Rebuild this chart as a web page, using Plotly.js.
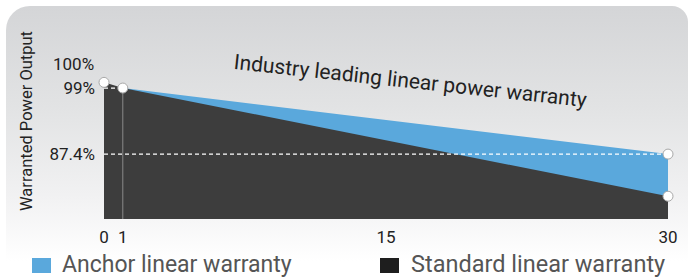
<!DOCTYPE html>
<html>
<head>
<meta charset="utf-8">
<script src="https://cdn.plot.ly/plotly-3.0.1.min.js"></script>
<style>
  html, body { margin: 0; padding: 0; background: #ffffff; }
  #wrap { position: relative; width: 688px; height: 277px; overflow: hidden; background: #ffffff; }
  #panel { position: absolute; left: 6px; top: 6px; width: 682px; height: 290px;
    border-radius: 24px 16px 0 0;
    background: linear-gradient(to bottom, #d4d5d7 0%, #e2e3e4 35%, #f1f1f2 65%, #ffffff 88%); }
  #chart { position: absolute; left: 0; top: 0; width: 688px; height: 277px; }
</style>
</head>
<body>
<div id="wrap"><div id="panel"></div><div id="chart"></div></div>
<script>
// ---- data ----
const years = [0, 1, 15, 30];                 // x tick values
const xTickLabels = ['0', '1', '15', '30'];
const standardYears = [0, 1, 30];
const standardOutput = [100, 99, 80];         // Standard linear warranty (%)
const anchorYears = [1, 30];
const anchorOutput = [99, 87.4];              // Anchor linear warranty (%)
const yTickValues = [99, 87.4];
const yTickLabels = ['99%', '87.4%'];
const topLabel = '100%';
const seriesNames = ['Anchor linear warranty', 'Standard linear warranty'];
const chartTitle = 'Industry leading linear power warranty';
const yTitle = 'Warranted Power Output';

const yRange = [76, 109.2];
const BLUE = '#5aa8dc';
const DARK = '#3d3d3d';
const condensed = 'Roboto, sans-serif';

const traces = [
  { x: anchorYears, y: anchorOutput, mode: 'lines', fill: 'tozeroy', fillcolor: BLUE,
    line: { width: 0, color: BLUE }, name: seriesNames[0], showlegend: false, hoverinfo: 'skip' },
  { x: standardYears, y: standardOutput, mode: 'lines', fill: 'tozeroy', fillcolor: DARK,
    line: { width: 0, color: DARK }, name: seriesNames[1], showlegend: false, hoverinfo: 'skip' },
  { x: [anchorYears[0], anchorYears[0]], y: [yRange[0], anchorOutput[0]], mode: 'lines',
    line: { width: 1, color: '#8a8a8a' }, showlegend: false, hoverinfo: 'skip' },
  { x: [standardYears[0], anchorYears[0]], y: [anchorOutput[0], anchorOutput[0]], mode: 'lines',
    line: { width: 1.3, color: '#ffffff', dash: '4px,3px' }, showlegend: false, hoverinfo: 'skip' },
  { x: [standardYears[0], anchorYears[1]], y: [anchorOutput[1], anchorOutput[1]], mode: 'lines',
    line: { width: 1.3, color: '#ffffff', dash: '4px,3px' }, showlegend: false, hoverinfo: 'skip' },
  { x: [standardYears[0], anchorYears[0], anchorYears[1], standardYears[2]],
    y: [standardOutput[0], anchorOutput[0], anchorOutput[1], standardOutput[2]],
    mode: 'markers', marker: { size: 10, color: '#ffffff', line: { width: 1, color: '#a8a8a8' } },
    showlegend: false, hoverinfo: 'skip', cliponaxis: false }
];

const pl = 104, pr = 20, pt = 30, pb = 58, W = 688, H = 277;
const pw = W - pl - pr, ph = H - pt - pb;
const px = v => (v - pl) / pw;            // pixel -> paper x
const py = v => (H - pb - v) / ph;        // pixel -> paper y

const layout = {
  width: W, height: H,
  margin: { l: pl, r: pr, t: pt, b: pb, pad: 0 },
  paper_bgcolor: 'rgba(0,0,0,0)', plot_bgcolor: 'rgba(0,0,0,0)',
  showlegend: false,
  xaxis: { range: [0, 30], tickvals: years, ticktext: xTickLabels, showgrid: false, zeroline: false,
    showline: false, ticks: '', ticklabelstandoff: 6,
    tickfont: { family: condensed, size: 17, color: '#222' }, fixedrange: true },
  yaxis: { range: yRange, tickvals: yTickValues, ticktext: yTickLabels, showgrid: false, zeroline: false,
    showline: false, ticks: '', ticklabelstandoff: 8,
    tickfont: { family: condensed, size: 17, color: '#222' }, fixedrange: true },
  annotations: [
    { xref: 'x', yref: 'y', x: standardYears[0], y: standardOutput[0], text: topLabel, showarrow: false,
      xanchor: 'right', yanchor: 'middle', xshift: -8, yshift: 18,
      font: { family: condensed, size: 17, color: '#222' } },
    { xref: 'paper', yref: 'paper', x: px(410), y: py(81), text: chartTitle, showarrow: false,
      textangle: 6.2, xanchor: 'center', yanchor: 'middle',
      font: { family: 'Roboto, sans-serif', size: 21, color: '#222' } },
    { xref: 'paper', yref: 'paper', x: px(26), y: py(121), text: yTitle, showarrow: false,
      textangle: -90, xanchor: 'center', yanchor: 'middle',
      font: { family: condensed, size: 16.5, color: '#222' } },
    { xref: 'paper', yref: 'paper', x: px(60), y: py(264), text: seriesNames[0], showarrow: false,
      xanchor: 'left', yanchor: 'middle', font: { family: 'Roboto, sans-serif', size: 23, color: '#555' } },
    { xref: 'paper', yref: 'paper', x: px(409), y: py(264), text: seriesNames[1], showarrow: false,
      xanchor: 'left', yanchor: 'middle', font: { family: 'Roboto, sans-serif', size: 23.5, color: '#555' } }
  ],
  shapes: [
    { type: 'rect', xref: 'paper', yref: 'paper', x0: px(32), x1: px(51), y0: py(258), y1: py(273),
      fillcolor: BLUE, line: { width: 0 } },
    { type: 'rect', xref: 'paper', yref: 'paper', x0: px(380), x1: px(399), y0: py(258), y1: py(273),
      fillcolor: '#1e1e1e', line: { width: 0 } }
  ]
};

Plotly.newPlot('chart', traces, layout, { displayModeBar: false, staticPlot: true });
</script>
</body>
</html>
